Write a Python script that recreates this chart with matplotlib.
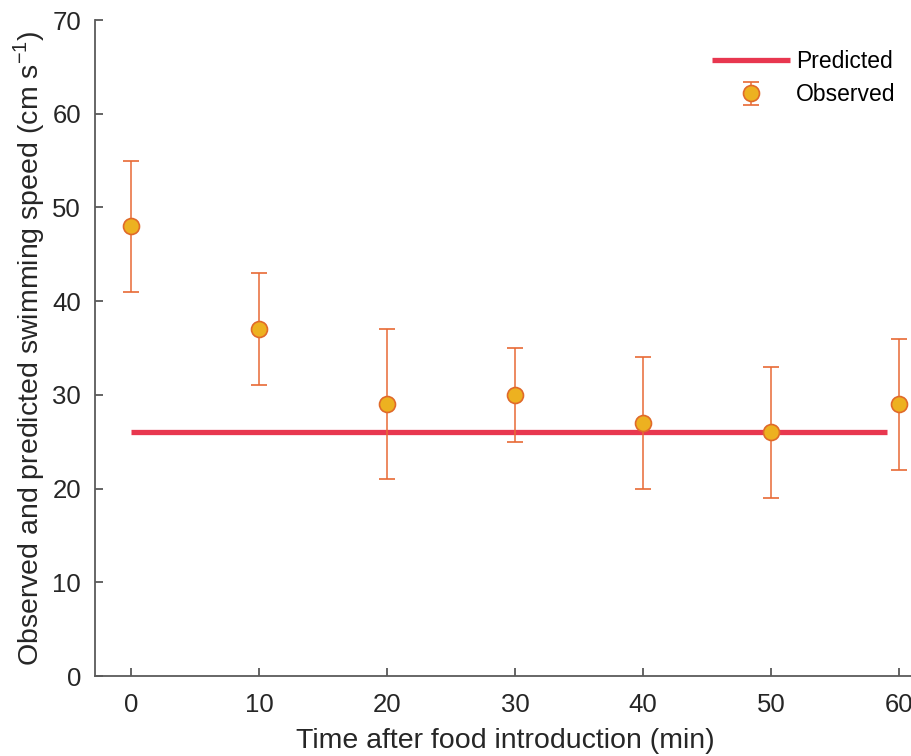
import matplotlib
matplotlib.use("Agg")
import matplotlib.pyplot as plt

# Observed swimming speed after food introduction
time_min = [0, 10, 20, 30, 40, 50, 60]
observed = [48, 37, 29, 30, 27, 26, 29]
obs_low = [41, 31, 21, 25, 20, 19, 22]
obs_high = [55, 43, 37, 35, 34, 33, 36]

# Model prediction (constant)
pred_x = [0, 59]
pred_y = [26, 26]

x_ticks = [0, 10, 20, 30, 40, 50, 60]
y_ticks = [0, 10, 20, 30, 40, 50, 60, 70]

plt.rcParams["font.family"] = ["Liberation Sans", "DejaVu Sans"]

W, H = 912, 756
fig = plt.figure(figsize=(W / 100, H / 100), dpi=100)
ax = fig.add_axes([95 / W, 1 - 676 / H, (916 - 95) / W, (676 - 20) / H])

err_lo = [m - lo for m, lo in zip(observed, obs_low)]
err_hi = [hi - m for m, hi in zip(observed, obs_high)]

pred_line, = ax.plot(pred_x, pred_y, color="#E8374F", lw=3.8,
                     solid_capstyle="butt", zorder=2, label="Predicted")
obs = ax.errorbar(time_min, observed, yerr=[err_lo, err_hi], fmt="o",
                  color="#E86A35", ecolor="#E86A35", elinewidth=1.1,
                  capsize=5.8, capthick=1.1, markersize=11.5,
                  markerfacecolor="#EDB120", markeredgecolor="#E06A2A",
                  markeredgewidth=1.2, zorder=3, label="Observed")

ax.set_xlim(-2.8, 61.3)
ax.set_ylim(0, 70)
ax.set_xticks(x_ticks)
ax.set_yticks(y_ticks)

for side in ("top", "right"):
    ax.spines[side].set_visible(False)
for side in ("left", "bottom"):
    ax.spines[side].set_color("#5a5a5a")
    ax.spines[side].set_linewidth(1.3)

ax.tick_params(direction="in", length=6, width=1.1, color="#3a3a3a",
               labelsize=18.5, labelcolor="#262626")
ax.tick_params(axis="x", pad=12)
ax.tick_params(axis="y", pad=10)

ax.set_xlabel("Time after food introduction (min)", fontsize=20.5,
              color="#262626", labelpad=8)
ax.set_ylabel("Observed and predicted swimming speed (cm s$^{\\mathregular{-1}}$)",
              fontsize=20.5, color="#262626", labelpad=4)

leg = ax.legend(handles=[pred_line, obs], loc="upper left",
                bbox_to_anchor=(712 / W, 1 - 50 / H),
                bbox_transform=fig.transFigure, frameon=False,
                fontsize=16.5, handlelength=3.4, handletextpad=0.25,
                labelspacing=0.45, borderaxespad=0, borderpad=0)

fig.savefig("out.png", dpi=100, facecolor="white")
